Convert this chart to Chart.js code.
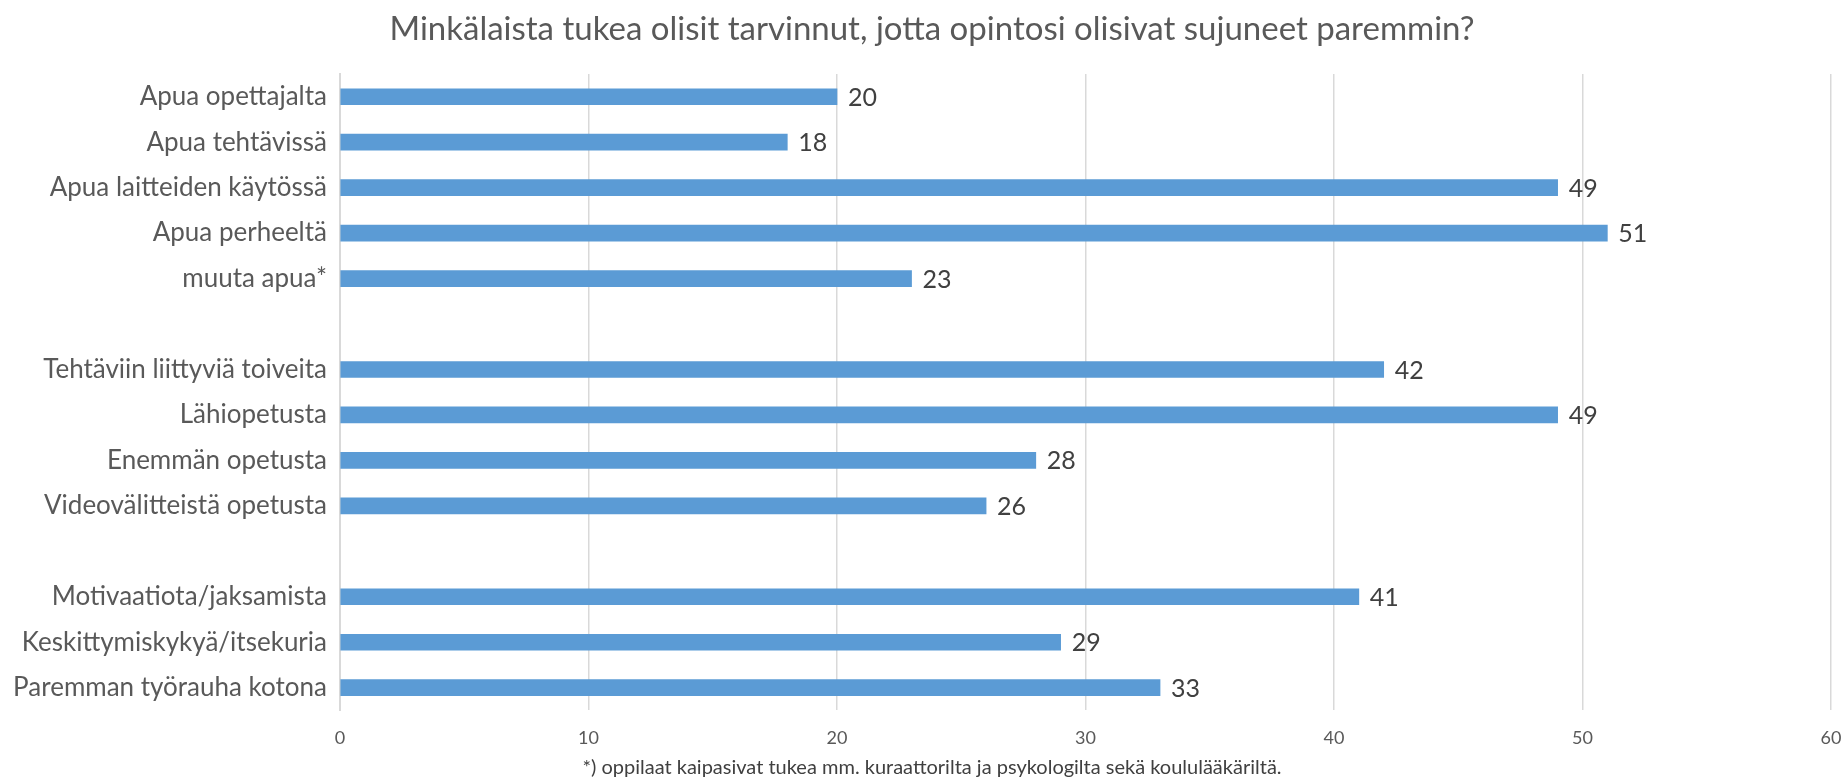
<!DOCTYPE html>
<html>
<head>
<meta charset="utf-8">
<script src="https://cdn.jsdelivr.net/npm/chart.js@4.4.0/dist/chart.umd.min.js"></script>
<style>
  html, body { margin: 0; padding: 0; background: #fff; }
  #wrap { width: 1847px; height: 781px; }
</style>
</head>
<body>
<div id="wrap"><canvas id="myChart" width="1847" height="781"></canvas></div>
<script>
// kategoriat (tyhjät rivit = välit ryhmien välissä)
const kategoriat = [
  'Apua opettajalta', 'Apua tehtävissä', 'Apua laitteiden käytössä', 'Apua perheeltä', 'muuta apua*',
  '',
  'Tehtäviin liittyviä toiveita', 'Lähiopetusta', 'Enemmän opetusta', 'Videovälitteistä opetusta',
  '',
  'Motivaatiota/jaksamista', 'Keskittymiskykyä/itsekuria', 'Paremman työrauha kotona'
];
const vastaukset = [20, 18, 49, 51, 23, null, 42, 49, 28, 26, null, 41, 29, 33];
const xTicks = [0, 10, 20, 30, 40, 50, 60];

const otsikko = 'Minkälaista tukea olisit tarvinnut, jotta opintosi olisivat sujuneet paremmin?';
const alaviite = '*) oppilaat kaipasivat tukea mm. kuraattorilta ja psykologilta sekä koululääkäriltä.';

const fontti = "Lato, 'Open Sans', sans-serif";

// arvot palkkien perään
const arvoLabelit = {
  id: 'arvoLabelit',
  afterDatasetsDraw(chart) {
    const c = chart.ctx;
    const meta = chart.getDatasetMeta(0);
    c.save();
    c.font = '25px ' + fontti;
    c.fillStyle = '#404040';
    c.textAlign = 'left';
    c.textBaseline = 'middle';
    meta.data.forEach((bar, i) => {
      const v = vastaukset[i];
      if (v === null) return;
      c.fillText(String(v), bar.x + 11, bar.y + 1);
    });
    c.restore();
  }
};

// otsikko ja alaviite piirretään itse, jotta keskitys osuu kohdalleen
const tekstit = {
  id: 'tekstit',
  afterDraw(chart) {
    const c = chart.ctx;
    c.save();
    c.textAlign = 'center';
    c.textBaseline = 'middle';
    c.fillStyle = '#595959';
    c.font = '33px ' + fontti;
    c.fillText(otsikko, 932, 29);
    c.fillStyle = '#404040';
    c.font = '20px ' + fontti;
    c.fillText(alaviite, 932, 768);
    c.restore();
  }
};

const ctx = document.getElementById('myChart').getContext('2d');

new Chart(ctx, {
  type: 'bar',
  data: {
    labels: kategoriat,
    datasets: [{
      data: vastaukset,
      backgroundColor: '#5B9BD5',
      borderWidth: 0,
      barThickness: 16
    }]
  },
  options: {
    indexAxis: 'y',
    responsive: false,
    animation: false,
    layout: { padding: { left: 0, right: 16, top: 74, bottom: 15 } },
    scales: {
      x: {
        min: 0,
        max: 60,
        afterBuildTicks: (axis) => { axis.ticks = xTicks.map(v => ({ value: v })); },
        afterFit: (axis) => { axis.paddingRight = 0; axis.paddingLeft = 0; },
        grid: { color: '#D9D9D9', lineWidth: 1.5, drawTicks: false },
        border: { display: false },
        ticks: {
          padding: 17,
          color: '#595959',
          font: { family: fontti, size: 18 }
        }
      },
      y: {
        afterFit: (axis) => { axis.width = 340; },
        grid: { display: false, drawTicks: false },
        border: { display: true, color: '#D9D9D9', width: 2 },
        ticks: {
          padding: 13,
          color: '#595959',
          font: { family: fontti, size: 26 },
          autoSkip: false
        }
      }
    },
    plugins: {
      legend: { display: false },
      tooltip: { enabled: false },
      title: { display: false }
    }
  },
  plugins: [arvoLabelit, tekstit]
});
</script>
</body>
</html>
